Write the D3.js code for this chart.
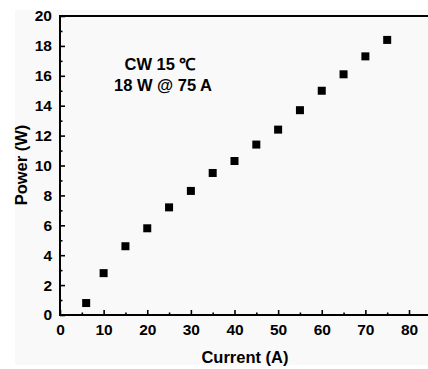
<!DOCTYPE html>
<html>
<head>
<meta charset="utf-8">
<script src="https://cdn.jsdelivr.net/npm/d3@7"></script>
<style>
  html, body { margin: 0; padding: 0; background: #ffffff; }
  svg { display: block; }
  text { font-family: "Liberation Sans", Arial, sans-serif; font-weight: bold; fill: #000; }
</style>
</head>
<body>
<svg id="chart" width="428" height="369"></svg>
<script>
// Output power vs. drive current (CW operation)
const currents = [6, 10, 15, 20, 25, 30, 35, 40, 45, 50, 55, 60, 65, 70, 75];
const powers   = [0.8, 2.8, 4.6, 5.8, 7.2, 8.3, 9.5, 10.3, 11.4, 12.4, 13.7, 15.0, 16.1, 17.3, 18.4];
const xTicks = [0, 10, 20, 30, 40, 50, 60, 70, 80];
const xMinor = [5, 15, 25, 35, 45, 55, 65, 75, 85];
const yTicks = [0, 2, 4, 6, 8, 10, 12, 14, 16, 18, 20];
const yMinor = [1, 3, 5, 7, 9, 11, 13, 15, 17, 19];
const notes = ["CW 15 \u2103", "18 W @ 75 A"];

const svg = d3.select("#chart");
const plotLeft = 60, plotTop = 16, plotBottom = 315;

const x = d3.scaleLinear().domain([0, 85]).range([plotLeft, plotLeft + 85 * (349 / 80)]);
const y = d3.scaleLinear().domain([0, 20]).range([plotBottom, plotTop]);

// figure panel
svg.append("rect")
  .attr("x", 15).attr("y", 10).attr("width", 413).attr("height", 355)
  .attr("fill", "#f9f9f9");

// frame top edge
svg.append("line")
  .attr("x1", plotLeft).attr("x2", 428).attr("y1", plotTop).attr("y2", plotTop)
  .attr("stroke", "#000").attr("stroke-width", 2);

// x axis: inward ticks
const gx = svg.append("g").attr("transform", `translate(0,${plotBottom})`);
gx.call(d3.axisBottom(x).tickValues(xTicks).tickSize(-5).tickPadding(9).tickFormat(d3.format("d")));
gx.append("g").call(d3.axisBottom(x).tickValues(xMinor).tickSize(-2.5).tickFormat(""));
gx.selectAll(".domain").remove();
gx.append("line").attr("x1", plotLeft - 1).attr("x2", 428).attr("stroke", "#000").attr("stroke-width", 2);
gx.selectAll(".tick line").attr("stroke", "#000").attr("stroke-width", 1.6);
gx.selectAll(".tick text").style("font-size", "15.5px").attr("font-family", null);

// y axis: inward ticks
const gy = svg.append("g").attr("transform", `translate(${plotLeft},0)`);
gy.call(d3.axisLeft(y).tickValues(yTicks).tickSize(-5).tickPadding(8).tickFormat(d3.format("d")));
gy.append("g").call(d3.axisLeft(y).tickValues(yMinor).tickSize(-2.5).tickFormat(""));
gy.selectAll(".domain").remove();
gy.append("line").attr("y1", plotTop - 1).attr("y2", plotBottom + 1).attr("stroke", "#000").attr("stroke-width", 2);
gy.selectAll(".tick line").attr("stroke", "#000").attr("stroke-width", 1.6);
gy.selectAll(".tick text").style("font-size", "15.5px").attr("font-family", null);

// data markers
const s = 8;
svg.append("g").selectAll("rect")
  .data(currents.map((c, i) => [c, powers[i]]))
  .join("rect")
  .attr("x", d => x(d[0]) - s / 2)
  .attr("y", d => y(d[1]) - s / 2)
  .attr("width", s).attr("height", s)
  .attr("fill", "#000");

// axis titles
svg.append("text")
  .attr("x", 245).attr("y", 363)
  .attr("text-anchor", "middle")
  .style("font-size", "16.5px")
  .text("Current (A)");

svg.append("text")
  .attr("transform", "translate(27,165) rotate(-90)")
  .attr("text-anchor", "middle")
  .style("font-size", "16.5px")
  .text("Power (W)");

// annotation
svg.append("text")
  .attr("x", 160).attr("y", 70)
  .attr("text-anchor", "middle")
  .style("font-size", "16.5px")
  .text(notes[0]);
svg.append("text")
  .attr("x", 163).attr("y", 91)
  .attr("text-anchor", "middle")
  .style("font-size", "16.5px")
  .text(notes[1]);
</script>
</body>
</html>
